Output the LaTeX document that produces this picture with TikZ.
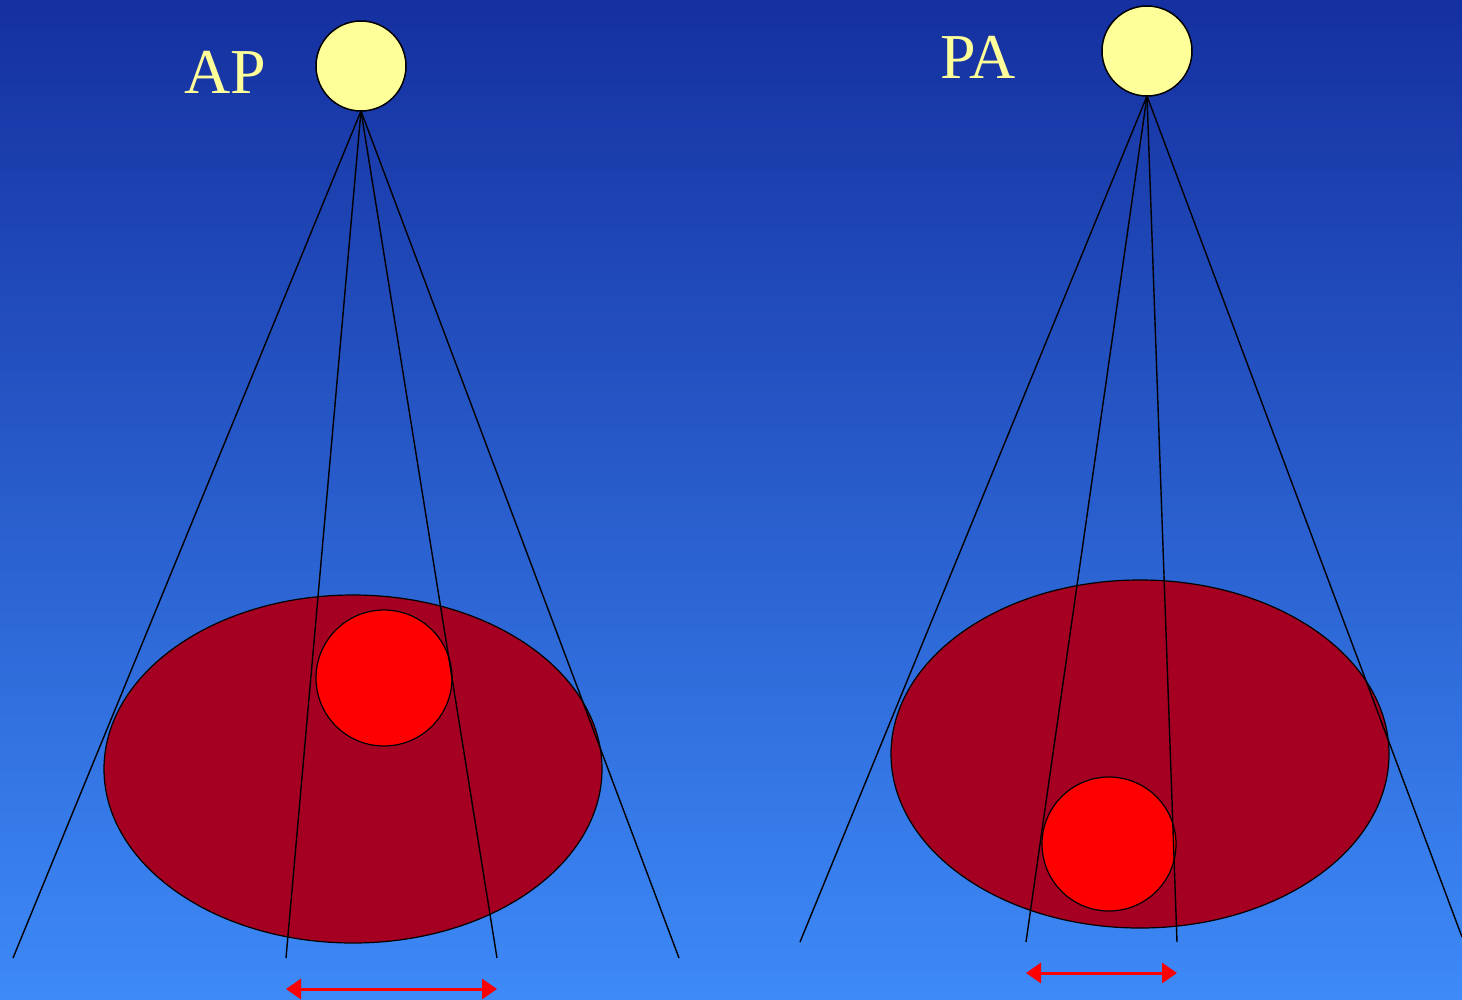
\documentclass[tikz,border=0pt]{standalone}
\usepackage{fontspec}
\setmainfont{Liberation Serif}
\usetikzlibrary{arrows.meta}
\definecolor{bgtop}{HTML}{1530A0}
\definecolor{bgbot}{HTML}{3D8AF8}
\definecolor{srcfill}{HTML}{FFFF99}
\definecolor{bodyfill}{HTML}{A50021}
\definecolor{lesion}{HTML}{FF0000}
\tikzset{
  source/.style={circle, draw=black, line width=1.5pt, fill=srcfill, minimum size=90pt, inner sep=0pt},
  body/.style={ellipse, draw=black, line width=1.2pt, fill=bodyfill, minimum width=498pt, minimum height=348pt, inner sep=0pt},
  lesionc/.style={circle, draw=black, line width=1.2pt, fill=lesion, inner sep=0pt},
  ray/.style={draw=black, line width=1.4pt},
  meas/.style={draw=lesion, line width=3pt, {Triangle[length=15pt,width=20pt]}-{Triangle[length=15pt,width=20pt]}},
  lbl/.style={text=srcfill, font=\fontsize{64}{64}\selectfont, inner sep=0pt}
}
\usetikzlibrary{shapes.geometric}
\begin{document}
\begin{tikzpicture}[x=1pt,y=-1pt]
\useasboundingbox (0,0) rectangle (1462,999);
\shade[top color=bgtop, bottom color=bgbot] (0,0) rectangle (1462,999);
% left (AP)
\node[body] (bodyL) at (353,769) {};
\node[lesionc, minimum size=136pt] (lesL) at (384,678) {};
\node[source] (srcL) at (361,66) {};
\node[lbl] (lblAP) at (225,72) {AP};
\coordinate (fL) at (361,111);
\coordinate (eL1) at (13,958);
\coordinate (eL2) at (286,958);
\coordinate (eL3) at (497,958);
\coordinate (eL4) at (679,958);
\foreach \e in {eL1,eL2,eL3,eL4} \draw[ray] (fL) -- (\e);
\coordinate (aL1) at (286,989);
\coordinate (aL2) at (497,989);
\draw[meas] (aL1) -- (aL2);
% right (PA)
\node[body] (bodyR) at (1140,754) {};
\node[lesionc, minimum size=134pt] (lesR) at (1109,844) {};
\node[source] (srcR) at (1147,51) {};
\node[lbl] (lblPA) at (978,57) {PA};
\coordinate (fR) at (1147,96);
\coordinate (eR1) at (800,942);
\coordinate (eR2) at (1026,942);
\coordinate (eR3) at (1177,942);
\coordinate (eR4) at (1462,937);
\foreach \e in {eR1,eR2,eR3,eR4} \draw[ray] (fR) -- (\e);
\coordinate (aR1) at (1026,973);
\coordinate (aR2) at (1177,973);
\draw[meas] (aR1) -- (aR2);
\end{tikzpicture}
\end{document}
